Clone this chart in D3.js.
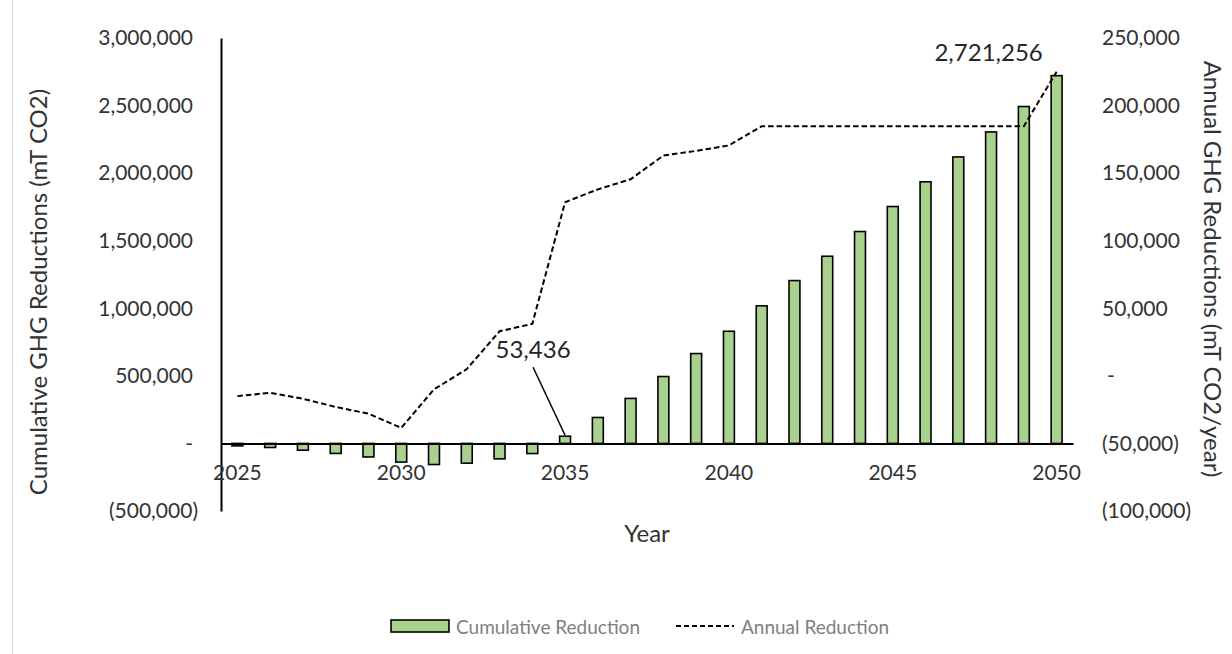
<!DOCTYPE html>
<html>
<head>
<meta charset="utf-8">
<script src="https://cdn.jsdelivr.net/npm/d3@7"></script>
<style>
  html, body { margin: 0; padding: 0; background: #ffffff; }
  svg { display: block; font-family: Lato, "Open Sans", sans-serif; }
</style>
</head>
<body>
<svg id="chart" width="1232" height="654"></svg>
<script>
// Years on the category axis
const years = d3.range(2025, 2051);

// Cumulative GHG reductions (mT CO2), left axis
const cumulative = [
  -18000, -30000, -50000, -74000, -100000, -138000, -156000, -146000, -114000, -75000,
  53436, 192000, 333000, 495000, 665000, 830000, 1018000, 1205000, 1385000, 1568000,
  1753000, 1936000, 2120000, 2305000, 2493000, 2721256
];

// Annual GHG reductions (mT CO2/year), right axis
const annual = [
  -15000, -12500, -17000, -23000, -28000, -38500, -10000, 5000, 33000, 38500,
  128500, 138000, 145500, 163000, 166500, 170500, 184700, 184700, 184700, 184700,
  184700, 184700, 184700, 184700, 184700, 225000
];

// Axis ticks
const leftTicks = [-500000, 0, 500000, 1000000, 1500000, 2000000, 2500000, 3000000];
const rightTicks = [-100000, -50000, 0, 50000, 100000, 150000, 200000, 250000];
const yearTicks = [2025, 2030, 2035, 2040, 2045, 2050];

// Labelled values
const labelledYears = [2035, 2050];

const svg = d3.select("#chart");
const plot = { left: 221, right: 1073, top: 38, bottom: 511 };

const x = d3.scaleBand()
  .domain(years)
  .range([plot.left, plot.right])
  .paddingInner(2 / 3)
  .paddingOuter(1 / 3);

const yL = d3.scaleLinear().domain([-500000, 3000000]).range([plot.bottom, plot.top]);
const yR = d3.scaleLinear().domain([-100000, 250000]).range([plot.bottom, plot.top]);

const num = d3.format(",");
const acct = v => v === 0 ? "-" : v < 0 ? "(" + num(-v) + ")" : num(v);

const textCol = "#333333";

// Frame edge on the left
svg.append("line")
  .attr("x1", 12.5).attr("x2", 12.5).attr("y1", 0).attr("y2", 654)
  .attr("stroke", "#d9d9d9").attr("stroke-width", 1);

// Left axis
const gL = svg.append("g")
  .attr("transform", `translate(${plot.left},0)`)
  .call(d3.axisLeft(yL).tickValues(leftTicks).tickSize(0).tickPadding(28).tickFormat(acct));
gL.select(".domain").attr("stroke", "#000").attr("stroke-width", 2);
gL.selectAll(".tick text")
  .attr("font-size", 21).attr("fill", textCol).attr("font-family", "Lato, sans-serif")
  .attr("dx", d => d < 0 ? 5 : 0);

// Right axis
const gR = svg.append("g")
  .attr("transform", `translate(${plot.right},0)`)
  .call(d3.axisRight(yR).tickValues(rightTicks).tickSize(0).tickPadding(29).tickFormat(acct));
gR.select(".domain").remove();
gR.selectAll(".tick text")
  .attr("font-size", 21).attr("fill", textCol).attr("font-family", "Lato, sans-serif")
  .attr("dx", d => d === 0 ? 5 : 0);

// Bars: cumulative reduction
svg.append("g").selectAll("rect")
  .data(years.map((yr, i) => ({ yr, v: cumulative[i] })))
  .join("rect")
  .attr("x", d => x(d.yr))
  .attr("width", x.bandwidth())
  .attr("y", d => yL(Math.max(0, d.v)))
  .attr("height", d => Math.abs(yL(d.v) - yL(0)))
  .attr("fill", "#a9d18e")
  .attr("stroke", "#000")
  .attr("stroke-width", 1.6);

// Category axis along zero
const gX = svg.append("g")
  .attr("transform", `translate(0,${yL(0)})`)
  .call(d3.axisBottom(x).tickValues(yearTicks).tickSize(0).tickPadding(22));
gX.select(".domain").attr("stroke", "#000").attr("stroke-width", 2);
gX.selectAll(".tick text")
  .attr("font-size", 21).attr("fill", textCol).attr("font-family", "Lato, sans-serif");

// Dashed line: annual reduction
const line = d3.line()
  .x((d, i) => x(years[i]) + x.bandwidth() / 2)
  .y(d => yR(d));
svg.append("path")
  .datum(annual)
  .attr("d", line)
  .attr("fill", "none")
  .attr("stroke", "#000")
  .attr("stroke-width", 2)
  .attr("stroke-dasharray", "5.5,3");

// Data labels
const iA = years.indexOf(labelledYears[0]);
const cxA = x(labelledYears[0]) + x.bandwidth() / 2;
svg.append("line")
  .attr("x1", cxA - 32).attr("y1", yL(cumulative[iA]) - 69)
  .attr("x2", cxA).attr("y2", yL(cumulative[iA]) - 1)
  .attr("stroke", "#000").attr("stroke-width", 1.5);
svg.append("text")
  .attr("x", cxA - 32).attr("y", yL(cumulative[iA]) - 88)
  .attr("text-anchor", "middle").attr("dominant-baseline", "central")
  .attr("font-size", 24).attr("fill", "#262626")
  .text(num(cumulative[iA]));

const iB = years.indexOf(labelledYears[1]);
const cxB = x(labelledYears[1]) + x.bandwidth() / 2;
svg.append("text")
  .attr("x", cxB - 68).attr("y", yL(cumulative[iB]) - 24)
  .attr("text-anchor", "middle").attr("dominant-baseline", "central")
  .attr("font-size", 24).attr("fill", "#262626")
  .text(num(cumulative[iB]));

// Axis titles
svg.append("text")
  .attr("transform", "translate(37,292) rotate(-90)")
  .attr("text-anchor", "middle").attr("dominant-baseline", "central")
  .attr("font-size", 24).attr("fill", textCol)
  .text("Cumulative GHG Reductions (mT CO2)");

svg.append("text")
  .attr("transform", "translate(1213,269) rotate(90)")
  .attr("text-anchor", "middle").attr("dominant-baseline", "central")
  .attr("font-size", 24).attr("fill", textCol)
  .text("Annual GHG Reductions (mT CO2/year)");

svg.append("text")
  .attr("x", 647).attr("y", 532)
  .attr("text-anchor", "middle").attr("dominant-baseline", "central")
  .attr("font-size", 24).attr("fill", textCol)
  .text("Year");

// Legend
const lg = svg.append("g").attr("transform", "translate(0,626)");
lg.append("rect")
  .attr("x", 391).attr("y", -6).attr("width", 58).attr("height", 12)
  .attr("fill", "#a9d18e").attr("stroke", "#000").attr("stroke-width", 1.6);
lg.append("text")
  .attr("x", 456).attr("y", 0).attr("dominant-baseline", "central")
  .attr("font-size", 19).attr("fill", "#808080")
  .text("Cumulative Reduction");
lg.append("line")
  .attr("x1", 676).attr("x2", 734).attr("y1", 0).attr("y2", 0)
  .attr("stroke", "#000").attr("stroke-width", 2).attr("stroke-dasharray", "5,3");
lg.append("text")
  .attr("x", 741).attr("y", 0).attr("dominant-baseline", "central")
  .attr("font-size", 19).attr("fill", "#808080")
  .text("Annual Reduction");
</script>
</body>
</html>
